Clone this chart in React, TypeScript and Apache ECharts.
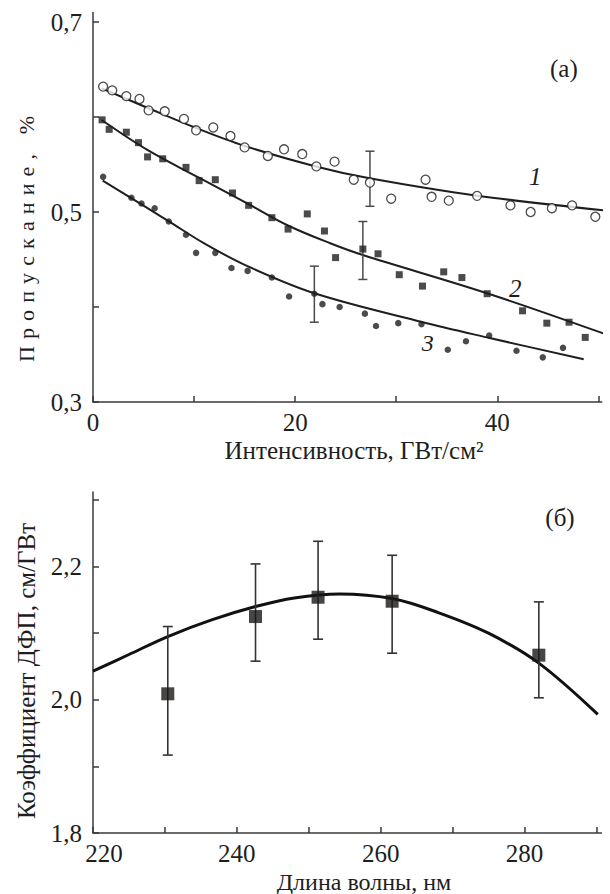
import React, { useEffect, useRef } from "react";
import * as echarts from "echarts";

// ---------- Panel (a) data ----------
const s1X = [1.0, 1.9, 3.3, 4.6, 5.5, 7.1, 9.0, 10.2, 11.9, 13.6, 15.0, 17.3, 18.9, 20.7, 22.1, 23.9, 25.8, 27.4, 29.5, 32.9, 33.5, 35.2, 38.0, 41.3, 43.3, 45.4, 47.4, 49.7];
const s1Y = [0.632, 0.628, 0.622, 0.619, 0.607, 0.606, 0.598, 0.586, 0.589, 0.58, 0.568, 0.559, 0.566, 0.561, 0.548, 0.553, 0.534, 0.531, 0.514, 0.534, 0.516, 0.512, 0.517, 0.507, 0.5, 0.504, 0.507, 0.495];

const s2X = [0.9, 1.6, 3.3, 4.5, 5.4, 6.9, 9.2, 10.5, 12.1, 13.8, 15.4, 17.7, 19.3, 21.2, 22.9, 24.0, 26.7, 28.2, 30.3, 32.6, 34.7, 36.5, 39.0, 42.5, 44.9, 47.1, 48.7];
const s2Y = [0.597, 0.587, 0.584, 0.573, 0.558, 0.556, 0.547, 0.533, 0.534, 0.52, 0.507, 0.494, 0.482, 0.498, 0.48, 0.452, 0.461, 0.456, 0.434, 0.422, 0.437, 0.431, 0.414, 0.396, 0.383, 0.384, 0.368];

const s3X = [1.0, 3.8, 4.8, 6.1, 7.5, 9.2, 10.2, 12.1, 13.7, 15.3, 17.7, 19.4, 21.9, 22.7, 24.4, 26.9, 28.0, 30.2, 32.5, 35.1, 36.9, 39.2, 41.9, 44.5, 46.5];
const s3Y = [0.537, 0.515, 0.509, 0.504, 0.49, 0.476, 0.457, 0.457, 0.441, 0.438, 0.431, 0.411, 0.414, 0.403, 0.4, 0.393, 0.38, 0.383, 0.382, 0.355, 0.364, 0.37, 0.354, 0.347, 0.357];

// fitted curves
const c1X = [0.86, 5.31, 10.2, 15.02, 22.15, 27.36, 38.0, 51.12];
const c1Y = [0.6302, 0.61, 0.5884, 0.5695, 0.5477, 0.5355, 0.5172, 0.5011];
const c2X = [0.86, 5.38, 10.53, 15.35, 19.34, 23.47, 26.7, 38.98, 51.12];
const c2Y = [0.5968, 0.5653, 0.5358, 0.5085, 0.4855, 0.4671, 0.4547, 0.4145, 0.3698];
const c3X = [0.96, 7.46, 11.0, 15.28, 21.91, 32.54, 39.24, 48.55];
const c3Y = [0.533, 0.4905, 0.467, 0.443, 0.4144, 0.3842, 0.3674, 0.345];

// error bars: x, low, high
const errAX = [27.4, 26.7, 21.9];
const errALow = [0.506, 0.429, 0.384];
const errAHigh = [0.564, 0.49, 0.443];

const aXTicks = [0, 10, 20, 30, 40, 50];
const aXLabels = [0, 20, 40];
const aYTicks = [0.3, 0.4, 0.5, 0.6, 0.7];
const aYLabels = [0.3, 0.5, 0.7];

// ---------- Panel (б) data ----------
const bX = [230.4, 242.6, 251.3, 261.6, 282.0];
const bY = [2.009, 2.125, 2.154, 2.148, 2.067];
const bLow = [1.917, 2.058, 2.091, 2.07, 2.003];
const bHigh = [2.11, 2.204, 2.238, 2.217, 2.147];
const cbX = [220.0, 225.0, 230.4, 236.5, 242.6, 248.0, 254.3, 261.6, 268.0, 275.0, 282.0, 290.2];
const cbY = [2.043, 2.068, 2.095, 2.12, 2.14, 2.153, 2.159, 2.152, 2.131, 2.1, 2.055, 1.978];

const bXTicks = [220, 230, 240, 250, 260, 270, 280, 290];
const bXLabels = [220, 240, 260, 280];
const bYTicks = [1.8, 1.9, 2.0, 2.1, 2.2, 2.3];
const bYLabels = [1.8, 2.0, 2.2];

const FONT = "Liberation Serif";
const INK = "#1e1e1e";
const AXIS = "#3a3a3a";

const zip = (xs: number[], ys: number[]) => xs.map((x, i) => [x, ys[i]]);
const zip3 = (xs: number[], a: number[], b: number[]) => xs.map((x, i) => [x, a[i], b[i]]);
const comma = (v: number) => v.toFixed(1).replace(".", ",");

const errRender = (hw: number, lw: number, color: string) => (params: any, api: any) => {
  const x = api.value(0);
  const lo = api.coord([x, api.value(1)]);
  const hi = api.coord([x, api.value(2)]);
  const style = { stroke: color, lineWidth: lw };
  return {
    type: "group",
    children: [
      { type: "line", shape: { x1: lo[0], y1: lo[1], x2: hi[0], y2: hi[1] }, style },
      { type: "line", shape: { x1: lo[0] - hw, y1: lo[1], x2: lo[0] + hw, y2: lo[1] }, style },
      { type: "line", shape: { x1: hi[0] - hw, y1: hi[1], x2: hi[0] + hw, y2: hi[1] }, style },
    ],
  };
};

const axisCommon = {
  axisLine: { show: true, onZero: false, lineStyle: { color: AXIS, width: 1.5 } },
  splitLine: { show: false },
};

// vertical title with letter spacing so that it spans `span` pixels
const spacedVertical = (text: string, cx: number, cy: number, size: number, span: number) => {
  const ctx = document.createElement("canvas").getContext("2d")!;
  ctx.font = `${size}px ${FONT}`;
  const chars = Array.from(text);
  const widths = chars.map((c) => ctx.measureText(c).width);
  const natural = widths.reduce((a, b) => a + b, 0);
  const gap = Math.max(0, (span - natural) / (chars.length - 1));
  let pos = -span / 2;
  const children = chars.map((c, i) => {
    const el = { type: "text", x: pos, y: -size / 2, style: { text: c, fontFamily: FONT, fontSize: size, fill: INK } };
    pos += widths[i] + gap;
    return el;
  });
  return { type: "group", x: cx, y: cy, rotation: Math.PI / 2, children };
};

export default function App() {
  const ref = useRef<HTMLDivElement>(null);
  useEffect(() => {
    if (!ref.current) return;
    const chart = echarts.init(ref.current, undefined, { renderer: "svg" });
    const la = { color: INK, fontFamily: "serif", fontSize: 25 };
    const lb = { color: INK, fontFamily: "Times New Roman", fontSize: 25 };
    const option: any = {
      animation: false,
      backgroundColor: "#fff",
      grid: [
        { left: 93, top: 12.5, width: 508.7, height: 389.5 },
        { left: 93, top: 492, width: 508.4, height: 341 },
      ],
      xAxis: [
        {
          type: "value", gridIndex: 0, min: 0, max: 50.33,
          ...axisCommon,
          axisTick: { show: true, inside: true, length: 6, customValues: aXTicks, lineStyle: { color: AXIS, width: 1.5 } },
          axisLabel: { ...la, margin: 8, customValues: aXLabels, formatter: (v: number) => String(v) },
        },
        {
          type: "value", gridIndex: 1, min: 220, max: 290.7,
          ...axisCommon,
          axisTick: { show: true, inside: true, length: 6, customValues: bXTicks, lineStyle: { color: AXIS, width: 1.5 } },
          axisLabel: {
            ...lb, margin: 8, customValues: bXLabels,
            formatter: (v: number) => (v === 220 ? "{p|220}" : String(v)),
            rich: { p: { padding: [0, 0, 0, 22], fontFamily: "Times New Roman", fontSize: 25, color: INK } },
          },
        },
      ],
      yAxis: [
        {
          type: "value", gridIndex: 0, min: 0.3, max: 0.71,
          ...axisCommon,
          axisTick: { show: true, inside: true, length: 6, customValues: aYTicks, lineStyle: { color: AXIS, width: 1.5 } },
          axisLabel: { ...la, margin: 11, customValues: aYLabels, formatter: comma },
        },
        {
          type: "value", gridIndex: 1, min: 1.8, max: 2.312,
          ...axisCommon,
          axisTick: { show: true, inside: true, length: 6, customValues: bYTicks, lineStyle: { color: AXIS, width: 1.5 } },
          axisLabel: { ...lb, margin: 11, customValues: bYLabels, formatter: comma },
        },
      ],
      series: [
        ...[zip(c1X, c1Y), zip(c2X, c2Y), zip(c3X, c3Y)].map((d) => ({
          type: "line", xAxisIndex: 0, yAxisIndex: 0, data: d, smooth: 0.35, symbol: "none", clip: false,
          lineStyle: { color: INK, width: 2 }, z: 2,
        })),
        {
          type: "custom", xAxisIndex: 0, yAxisIndex: 0, data: zip3(errAX, errALow, errAHigh),
          encode: { x: 0, y: [1, 2] }, renderItem: errRender(4.5, 1.5, "#4a4a4a"), z: 3,
        },
        {
          type: "scatter", xAxisIndex: 0, yAxisIndex: 0, data: zip(s1X, s1Y), symbol: "circle", symbolSize: 9,
          itemStyle: { color: "#fff", borderColor: INK, borderWidth: 1.3 }, z: 4,
        },
        {
          type: "scatter", xAxisIndex: 0, yAxisIndex: 0, data: zip(s2X, s2Y), symbol: "rect", symbolSize: 7,
          itemStyle: { color: INK }, z: 4,
        },
        {
          type: "scatter", xAxisIndex: 0, yAxisIndex: 0, data: zip(s3X, s3Y), symbol: "circle", symbolSize: 6.5,
          itemStyle: { color: INK }, z: 4,
        },
        {
          type: "line", xAxisIndex: 1, yAxisIndex: 1, data: zip(cbX, cbY), smooth: 0.35, symbol: "none", clip: false,
          lineStyle: { color: "#111", width: 3 }, z: 2,
        },
        {
          type: "custom", xAxisIndex: 1, yAxisIndex: 1, data: zip3(bX, bLow, bHigh),
          encode: { x: 0, y: [1, 2] }, renderItem: errRender(5, 1.6, "#333"), z: 3,
        },
        {
          type: "scatter", xAxisIndex: 1, yAxisIndex: 1, data: zip(bX, bY), symbol: "rect", symbolSize: 13,
          itemStyle: { color: "#1a1616" }, z: 4,
        },
      ],
      graphic: [
        spacedVertical("Пропускание, %", 26, 239, 22, 246),
        { type: "text", x: 26, y: 671, rotation: Math.PI / 2, style: { text: "Коэффициент ДФП, см/ГВт", fontFamily: FONT, fontSize: 25, fill: INK, textAlign: "center", textVerticalAlign: "middle" } },
        { type: "text", x: 354, y: 450, style: { text: "Интенсивность, ГВт/см²", fontFamily: FONT, fontSize: 25, fill: INK, textAlign: "center", textVerticalAlign: "middle" } },
        { type: "text", x: 364, y: 882, style: { text: "Длина волны, нм", fontFamily: FONT, fontSize: 24, fill: INK, textAlign: "center", textVerticalAlign: "middle" } },
        { type: "text", x: 550, y: 56, style: { text: "(а)", fontFamily: FONT, fontSize: 25, fill: INK } },
        { type: "text", x: 560, y: 505, style: { text: "(б)", fontFamily: FONT, fontSize: 25, fill: INK, textAlign: "center" } },
        { type: "text", x: 529, y: 164, style: { text: "1", fontFamily: FONT, fontSize: 25, fill: INK, fontStyle: "italic" } },
        { type: "text", x: 509, y: 288.3, style: { text: "2", fontFamily: FONT, fontSize: 25, fill: INK, fontStyle: "italic", textVerticalAlign: "middle" } },
        { type: "text", x: 427.7, y: 343.3, style: { text: "3", fontFamily: FONT, fontSize: 24, fill: INK, fontStyle: "italic", textAlign: "center", textVerticalAlign: "middle" } },
      ],
    };
    chart.setOption(option);
    return () => chart.dispose();
  }, []);
  return <div ref={ref} style={{ position: "fixed", left: 0, top: 0, width: 610, height: 894 }} />;
}
